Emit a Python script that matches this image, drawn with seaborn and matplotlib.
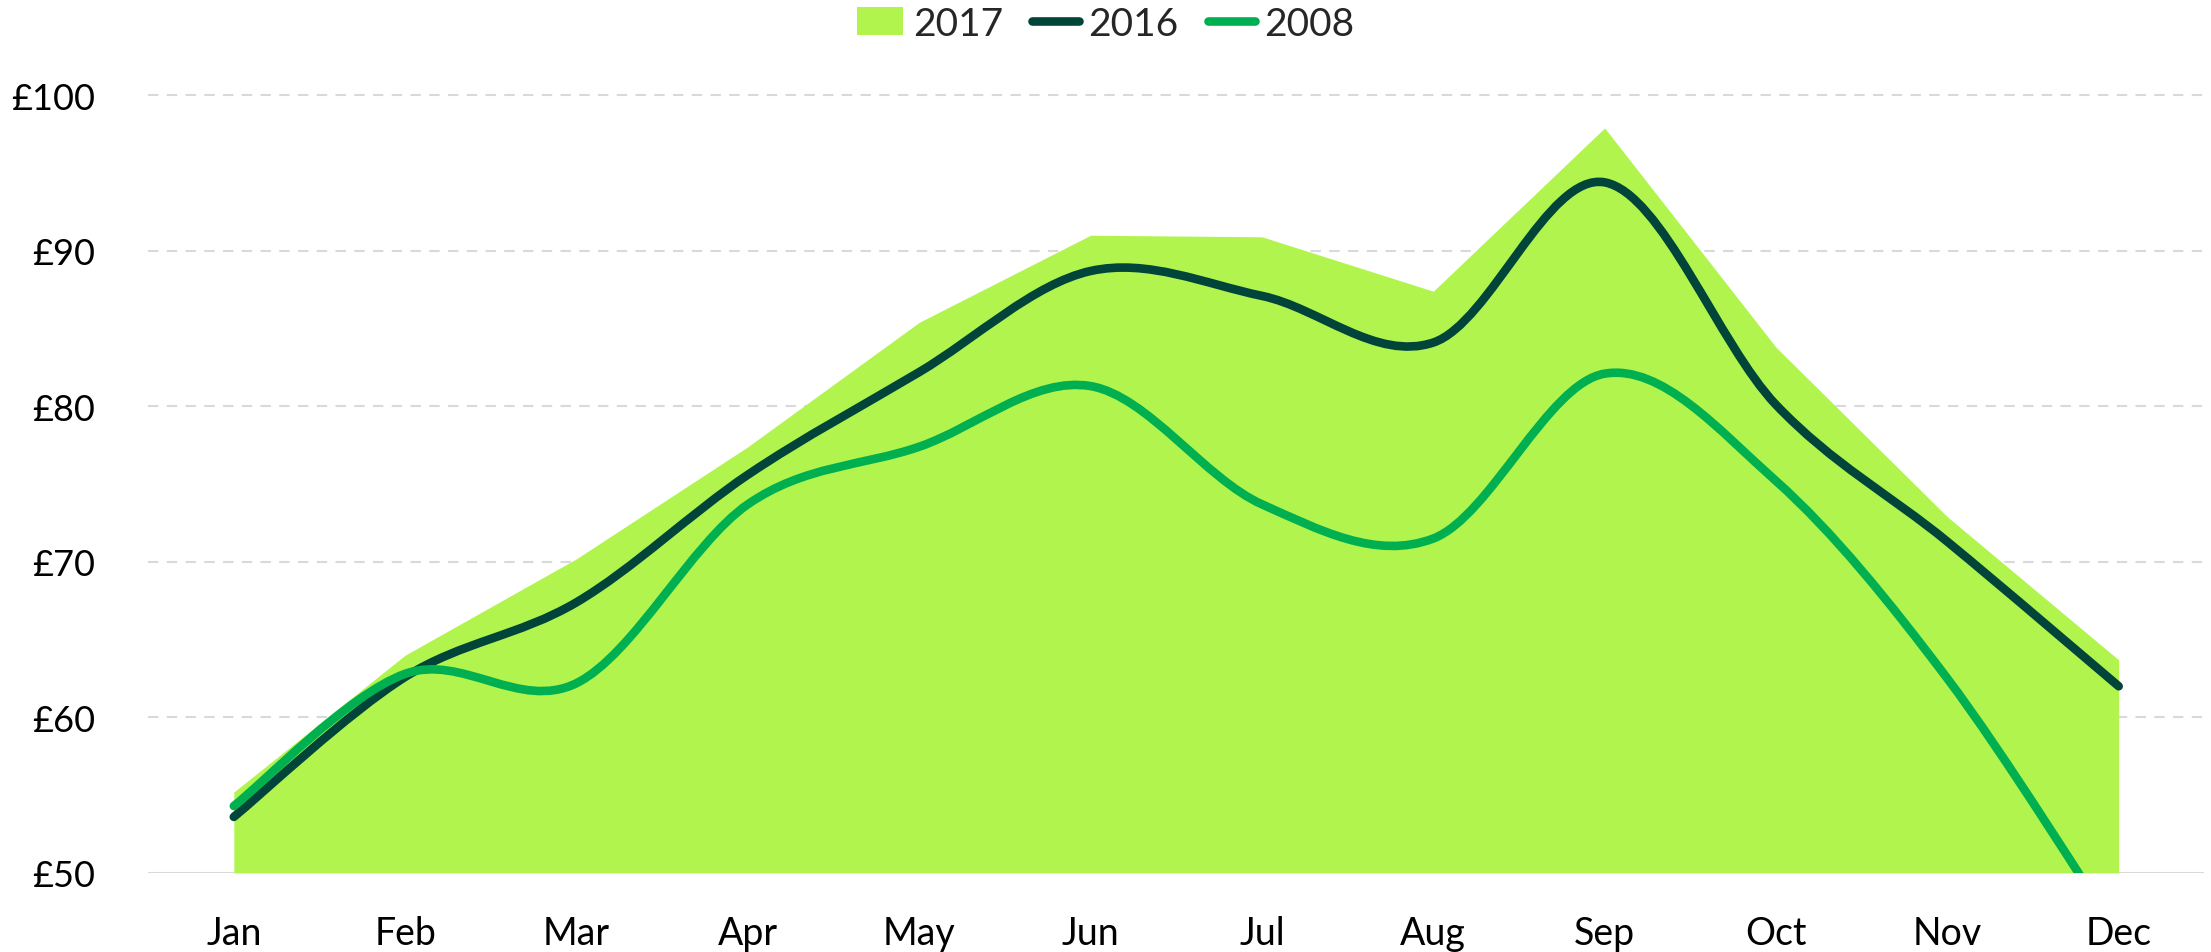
import numpy as np
import pandas as pd
import matplotlib
matplotlib.use("Agg")
import matplotlib.pyplot as plt
from matplotlib.path import Path
from matplotlib.patches import PathPatch, Patch
from matplotlib.lines import Line2D
import seaborn as sns

months = ["Jan", "Feb", "Mar", "Apr", "May", "Jun", "Jul", "Aug", "Sep", "Oct", "Nov", "Dec"]
vals_2017 = [55.2, 64.0, 70.2, 77.4, 85.4, 91.0, 90.9, 87.4, 97.9, 83.8, 72.9, 63.7]
vals_2016 = [53.6, 62.6, 67.4, 75.6, 82.2, 88.7, 87.1, 84.1, 94.4, 80.1, 71.3, 62.0]
vals_2008 = [54.3, 62.8, 62.2, 73.7, 77.4, 81.3, 73.7, 71.5, 82.1, 75.2, 62.5, 46.0]
yticks = [50, 60, 70, 80, 90, 100]
ytick_labels = ["£50", "£60", "£70", "£80", "£90", "£100"]

C2017 = "#B2F44E"
C2016 = "#00443A"
C2008 = "#00B050"

sns.set_theme(style="white")
plt.rcParams["font.family"] = ["Lato", "DejaVu Sans"]

df = pd.DataFrame({"month": months, "2017": vals_2017, "2016": vals_2016, "2008": vals_2008})
df["x"] = np.arange(len(months))

fig = plt.figure(figsize=(22.11, 9.53), dpi=100)
ax = fig.add_axes([0.067, 0.083, 0.930, 0.816])

# Area for 2017
ax.fill_between(df["x"], 50, df["2017"], color=C2017, linewidth=0, zorder=2)


def smooth_path(xs, ys):
    pts = np.column_stack([xs, ys]).astype(float)
    n = len(pts)
    verts = [pts[0]]
    codes = [Path.MOVETO]
    for i in range(n - 1):
        p0 = pts[i - 1] if i > 0 else pts[i]
        p1 = pts[i]
        p2 = pts[i + 1]
        p3 = pts[i + 2] if i + 2 < n else pts[i + 1]
        c1 = p1 + (p2 - p0) / 6.0
        c2 = p2 - (p3 - p1) / 6.0
        verts += [c1, c2, p2]
        codes += [Path.CURVE4] * 3
    return Path(verts, codes)


LW = 6.2
for col, color in [("2016", C2016), ("2008", C2008)]:
    patch = PathPatch(smooth_path(df["x"], df[col]), facecolor="none", edgecolor=color,
                      lw=LW, capstyle="round", joinstyle="round", zorder=4)
    ax.add_patch(patch)

ax.set_xlim(-0.5, 11.5)
ax.set_ylim(50, 100)
ax.set_yticks(yticks)
ax.set_yticklabels(ytick_labels)
ax.set_xticks(df["x"])
ax.set_xticklabels(months)
ax.tick_params(axis="both", length=0, colors="#000000")
ax.tick_params(axis="x", pad=30, labelsize=27)
ax.tick_params(axis="y", pad=38, labelsize=26)

for y in yticks[1:]:
    ax.axhline(y, color="#D9D9D9", lw=1.5, ls=(0, (5, 4)), zorder=1, clip_on=False)
ax.axhline(50, color="#D9D9D9", lw=1.5, zorder=1)

sns.despine(ax=ax, left=True, bottom=True, top=True, right=True)
ax.grid(False)

handles = [
    Patch(facecolor=C2017, edgecolor="none"),
    Line2D([0], [0], color=C2016, lw=LW, solid_capstyle="round"),
    Line2D([0], [0], color=C2008, lw=LW, solid_capstyle="round"),
]
fig.legend(handles, ["2017", "2016", "2008"], loc="center", bbox_to_anchor=(0.5, 0.974),
           ncol=3, frameon=False, fontsize=28, handlelength=1.2, handletextpad=0.25,
           columnspacing=0.75, handleheight=0.75)

fig.savefig("out.png", dpi=100, facecolor="white")
